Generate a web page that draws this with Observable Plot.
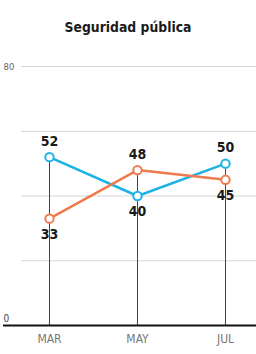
<!DOCTYPE html>
<html><head><meta charset="utf-8">
<script src="https://cdn.jsdelivr.net/npm/d3@7"></script>
<script src="https://cdn.jsdelivr.net/npm/@observablehq/plot@0.6"></script>
<style>
body{margin:0;background:#fff;}
#title{height:40px;box-sizing:border-box;padding-top:19px;line-height:16px;text-align:center;font:bold 13.8px "DejaVu Sans Condensed",sans-serif;color:#1a1a1a;letter-spacing:0;}
</style>
</head><body>
<div id="title"></div>
<div id="chart"></div>
<script>
const title = "Seguridad pública";
const months = ["MAR", "MAY", "JUL"];
const seriesNames = ["azul", "naranja"];
const blueValues = [52, 40, 50];
const orangeValues = [33, 48, 45];
const gridTicks = [20, 40, 60, 80];
const colors = ["#1db2e6", "#ef7a4c"];

document.getElementById("title").textContent = title;

const rows = [];
months.forEach((m, i) => {
  rows.push({month: m, series: seriesNames[0], value: blueValues[i]});
  rows.push({month: m, series: seriesNames[1], value: orangeValues[i]});
});
const maxByMonth = months.map((m, i) => ({month: m, value: Math.max(blueValues[i], orangeValues[i])}));
rows.forEach(r => {
  const mx = maxByMonth.find(d => d.month === r.month).value;
  r.above = r.value === mx;
});

const font = '"DejaVu Sans Condensed",sans-serif';

const chart = Plot.plot({
  width: 256,
  height: 314,
  marginTop: 26,
  marginBottom: 29,
  marginLeft: 3,
  marginRight: 0,
  style: {fontFamily: font, background: "#fff"},
  x: {type: "point", domain: months, range: [49, 225], padding: 0, axis: null},
  y: {domain: [0, 80], axis: null},
  color: {domain: seriesNames, range: colors},
  marks: [
    Plot.ruleY(gridTicks, {stroke: "#d4d4d4", strokeWidth: 1, insetLeft: 18}),
    Plot.axisY({ticks: [80], tickSize: 0, textAnchor: "start", dx: 3, fontSize: 9.5, fill: "#666", tickPadding: 3, label: null}),
    Plot.axisY({ticks: [0], tickSize: 0, textAnchor: "start", dx: 3, dy: -7, fontSize: 10, fill: "#444", tickPadding: 3, label: null}),
    Plot.ruleX(maxByMonth, {x: "month", y1: 0, y2: "value", stroke: "#444", strokeWidth: 1}),
    Plot.ruleY([0], {stroke: "#111", strokeWidth: 2}),
    Plot.axisX({tickSize: 0, tickPadding: 9, fontSize: 12, fill: "#777", label: null}),
    Plot.line(rows, {x: "month", y: "value", z: "series", stroke: "series", strokeWidth: 2.5}),
    Plot.dot(rows, {x: "month", y: "value", stroke: "series", fill: "#fff", r: 4.2, strokeWidth: 2}),
    Plot.text(rows.filter(d => d.above), {x: "month", y: "value", text: d => String(d.value), dy: -16, fontSize: 14, fontWeight: "bold", fill: "#1a1a1a"}),
    Plot.text(rows.filter(d => !d.above), {x: "month", y: "value", text: d => String(d.value), dy: 16, fontSize: 14, fontWeight: "bold", fill: "#1a1a1a"})
  ]
});
document.getElementById("chart").appendChild(chart);
</script>
</body></html>
